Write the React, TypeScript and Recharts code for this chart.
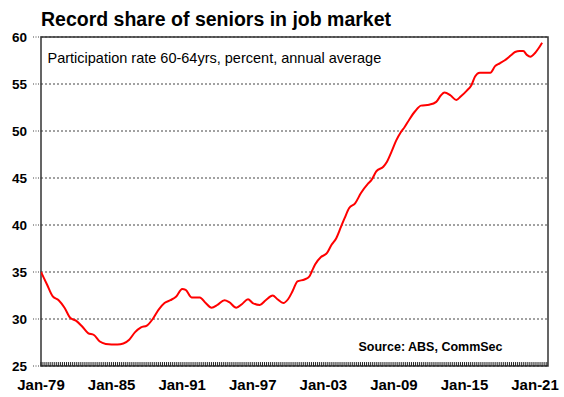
import React from 'react';
import { LineChart, Line, XAxis, YAxis, CartesianGrid, ReferenceArea, ReferenceLine } from 'recharts';

// participation rate 60-64yrs (decimal year -> percent)
const years = [
  1979.0, 1979.5, 1980.0, 1980.5, 1981.0, 1981.5, 1982.0, 1982.5, 1983.0, 1983.5,
  1984.0, 1984.5, 1985.0, 1985.5, 1986.0, 1986.5, 1987.0, 1987.5, 1988.0, 1988.5,
  1989.0, 1989.5, 1990.0, 1990.5, 1991.0, 1991.3, 1991.8, 1992.5, 1993.0, 1993.5,
  1994.0, 1994.6, 1995.0, 1995.6, 1996.1, 1996.6, 1997.0, 1997.6, 1998.1, 1998.7,
  1999.1, 1999.6, 2000.0, 2000.4, 2000.8, 2001.4, 2001.8, 2002.0, 2002.3, 2002.8,
  2003.3, 2003.7, 2004.1, 2004.5, 2004.8, 2005.2, 2005.7, 2006.2, 2006.8, 2007.1,
  2007.5, 2008.1, 2008.4, 2008.8, 2009.2, 2009.6, 2009.9, 2010.3, 2010.8, 2011.3,
  2012.0, 2012.6, 2013.0, 2013.3, 2013.8, 2014.3, 2014.7, 2015.2, 2015.6, 2015.9,
  2016.3, 2016.7, 2017.2, 2017.6, 2018.0, 2018.4, 2018.9, 2019.3, 2019.7, 2020.0,
  2020.3, 2020.6, 2021.0, 2021.3, 2021.6,
];
const rates = [
  35.0, 33.7, 32.4, 32.0, 31.2, 30.1, 29.8, 29.2, 28.5, 28.3,
  27.6, 27.35, 27.3, 27.3, 27.4, 27.8, 28.6, 29.1, 29.3, 30.0,
  31.0, 31.7, 32.0, 32.4, 33.2, 33.1, 32.3, 32.3, 31.7, 31.2,
  31.5, 32.0, 31.8, 31.2, 31.6, 32.1, 31.7, 31.5, 32.0, 32.5,
  32.1, 31.7, 32.1, 33.0, 34.0, 34.2, 34.5, 35.0, 35.8, 36.6,
  37.0, 37.9, 38.6, 39.8, 40.7, 41.8, 42.3, 43.4, 44.4, 44.8,
  45.7, 46.2, 46.7, 47.8, 49.0, 49.9, 50.4, 51.2, 52.1, 52.7,
  52.8, 53.1, 53.8, 54.1, 53.8, 53.3, 53.7, 54.3, 54.9, 55.8,
  56.2, 56.2, 56.2, 56.9, 57.2, 57.5, 58.0, 58.4, 58.5, 58.5,
  58.1, 57.9, 58.3, 58.8, 59.4,
];

const xTicks = [1979, 1985, 1991, 1997, 2003, 2009, 2015, 2021];
const xLabels = ['Jan-79', 'Jan-85', 'Jan-91', 'Jan-97', 'Jan-03', 'Jan-09', 'Jan-15', 'Jan-21'];
const yTicks = [25, 30, 35, 40, 45, 50, 55, 60];

const X_MIN = 1979;
const X_MAX = 2022.1;

// small category ticks along the bottom, one every two months
const minorTicks: number[] = [];
for (let m = 0; X_MIN + m / 12 <= X_MAX; m += 2) minorTicks.push(X_MIN + m / 12);

const data = years.map((t, i) => ({ t, v: rates[i] }));

const font = 'Arial, "Liberation Sans", sans-serif';

export default function App() {
  return (
    <div style={{ position: 'absolute', left: 0, top: 0, width: 564, height: 397, background: '#fff', fontFamily: font }}>
      <div style={{ position: 'absolute', left: 41, top: 10, fontSize: 19.5, lineHeight: 1, fontWeight: 'bold', whiteSpace: 'nowrap' }}>
        Record share of seniors in job market
      </div>
      <LineChart width={564} height={397} data={data} margin={{ top: 37, right: 16, bottom: 0, left: 0 }}>
        <CartesianGrid vertical={false} stroke="#444" strokeDasharray="2 2" />
        <XAxis
          dataKey="t"
          type="number"
          domain={[X_MIN, X_MAX]}
          ticks={xTicks}
          interval={0}
          allowDataOverflow
          height={31}
          tickLine={false}
          axisLine={false}
          tickSize={0}
          tickMargin={13}
          tickFormatter={(v: number) => xLabels[xTicks.indexOf(v)] ?? ''}
          tick={{ fill: '#000', fontSize: 15, fontWeight: 700, fontFamily: font }}
        />
        <YAxis
          type="number"
          domain={[25, 60]}
          ticks={yTicks}
          interval={0}
          width={41}
          axisLine={false}
          tickSize={8}
          tickMargin={6}
          tickLine={{ stroke: '#444', strokeDasharray: '1 1.5' }}
          tick={{ fill: '#000', fontSize: 13.5, fontWeight: 700, fontFamily: font }}
        />
        {minorTicks.map((t) => (
          <ReferenceLine
            key={t}
            segment={[{ x: t, y: 25 }, { x: t, y: 25.42 }]}
            stroke="#222"
            strokeWidth={1}
            ifOverflow="visible"
          />
        ))}
        <ReferenceArea x1={X_MIN} x2={X_MAX} y1={25} y2={60} fill="none" stroke="#333" strokeWidth={1.5} ifOverflow="extendDomain" />
        <Line
          type="monotone"
          dataKey="v"
          stroke="#ff0000"
          strokeWidth={2}
          dot={false}
          isAnimationActive={false}
        />
      </LineChart>
      <div style={{ position: 'absolute', left: 47.5, top: 50.5, fontSize: 14.5, lineHeight: 1, whiteSpace: 'nowrap' }}>
        Participation rate 60-64yrs, percent, annual average
      </div>
      <div style={{ position: 'absolute', left: 358.5, top: 340.5, fontSize: 12.5, lineHeight: 1, fontWeight: 'bold', whiteSpace: 'nowrap' }}>
        Source: ABS, CommSec
      </div>
    </div>
  );
}
